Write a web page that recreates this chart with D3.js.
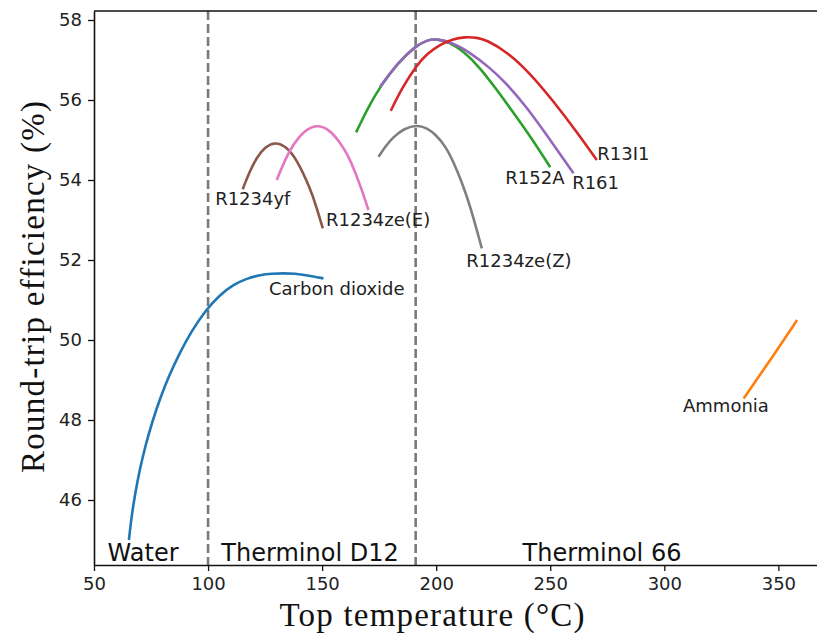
<!DOCTYPE html>
<meta charset="utf-8">
<script src="https://d3js.org/d3.v7.min.js"></script>
<style>
body { margin: 0; background: #fff; }
.tick text { font-family: "DejaVu Sans", sans-serif; font-size: 18px; fill: #222; }
.lbl { font-family: "DejaVu Sans", sans-serif; font-size: 18px; fill: #222; }
.region { font-family: "DejaVu Sans", sans-serif; font-size: 24px; fill: #111; }
.title { font-family: "Liberation Serif", "DejaVu Serif", serif; font-size: 33px; fill: #111; }
</style>
<div id="my_dataviz"></div>
<script>
// curves: [top temperature, efficiency]
var water = [[65.3,45.0],[66.5,45.6],[68,46.15],[70,46.75],[72.5,47.35],[75.5,47.95],[79,48.55],[83,49.12],[87.5,49.67],[92.5,50.2],[99,50.75],[105,51.12],[111,51.38],[117,51.54],[123,51.63],[128,51.66],[133,51.67],[138,51.66],[143.3,51.62],[150.6,51.54]]
var r152a = [[164.9,55.19],[170,55.8],[175.4,56.33],[183,56.92],[190.8,57.34],[196,57.5],[200.3,57.53],[206,57.44],[212,57.22],[219.3,56.8],[226,56.3],[233.9,55.68],[242,55.03],[250,54.32]]
var r161 = [[175.4,56.33],[183,56.92],[190.8,57.34],[196,57.5],[200,57.53],[207,57.44],[215,57.18],[223.7,56.8],[231,56.4],[239.7,55.82],[250,55.0],[260.2,54.17]]
var r13i1 = [[180.1,55.73],[185,56.3],[191.5,56.875],[196,57.16],[201.8,57.39],[207,57.52],[212.7,57.58],[218,57.56],[222,57.5],[230.9,57.21],[241,56.68],[251.5,55.96],[261,55.25],[270.4,54.5]]
var r1234zeZ = [[174.7,54.58],[178,54.86],[181.3,55.08],[186,55.29],[191.5,55.375],[196,55.3],[200,55.12],[204,54.85],[207.6,54.45],[211,53.98],[214.9,53.36],[220,52.29]]
var r1234yf = [[115.2,53.77],[118,54.19],[121.4,54.57],[125,54.83],[129.4,54.95],[134,54.85],[138.9,54.52],[144.7,53.8],[147.5,53.33],[150.3,52.79]]
var r1234zeE = [[130.1,54.0],[134,54.54],[137.4,54.9],[142,55.23],[147.7,55.39],[153,55.27],[157.9,54.94],[161.5,54.6],[164.5,54.2],[167.5,53.74],[170.3,53.25]]
var ammonia = [[334.8,48.54],[346.5,49.5],[358.2,50.5]]

var series = [
  {name: "Carbon dioxide", color: "#1f77b4", pts: water},
  {name: "R152A", color: "#2ca02c", pts: r152a},
  {name: "R161", color: "#9467bd", pts: r161},
  {name: "R13I1", color: "#d62728", pts: r13i1},
  {name: "R1234ze(Z)", color: "#7f7f7f", pts: r1234zeZ},
  {name: "R1234yf", color: "#8c564b", pts: r1234yf},
  {name: "R1234ze(E)", color: "#e377c2", pts: r1234zeE},
  {name: "Ammonia", color: "#ff7f0e", pts: ammonia}
]

// text annotations in data coordinates
var labels = [
  ["R1234yf", 103.1, 53.37],
  ["R1234ze(E)", 151.7, 52.84],
  ["Carbon dioxide", 126.7, 51.12],
  ["R1234ze(Z)", 213.2, 51.83],
  ["R152A", 230.3, 53.9],
  ["R161", 259.6, 53.77],
  ["R13I1", 270.6, 54.5],
  ["Ammonia", 308.2, 48.21]
]
var regions = [["Water", 71.5], ["Therminol D12", 144.7], ["Therminol 66", 272.7]]
var boundaries = [100, 191]
var xTicks = [50, 100, 150, 200, 250, 300, 350]
var yTicks = [46, 48, 50, 52, 54, 56, 58]

var W = 817, H = 633
var mLeft = 94, mRight = 824, mTop = 11, mBottom = 565

var svg = d3.select("#my_dataviz")
  .append("svg")
    .attr("width", W)
    .attr("height", H)

var x = d3.scaleLinear().domain([50, 370]).range([mLeft, mRight])
var y = d3.scaleLinear().domain([44.375, 58.225]).range([mBottom, mTop])

// region separators
svg.selectAll("line.sep")
  .data(boundaries)
  .enter()
  .append("line")
    .attr("class", "sep")
    .attr("x1", function(d){ return x(d) })
    .attr("x2", function(d){ return x(d) })
    .attr("y1", mTop)
    .attr("y2", mBottom)
    .attr("stroke", "#7a7a7a")
    .attr("stroke-width", 2.6)
    .style("stroke-dasharray", "9,4")

var line = d3.line()
  .x(function(d){ return x(d[0]) })
  .y(function(d){ return y(d[1]) })
  .curve(d3.curveBasis)

svg.append("g")
  .selectAll("path")
  .data(series)
  .enter()
  .append("path")
    .attr("d", function(d){ return line(d.pts) })
    .attr("fill", "none")
    .attr("stroke", function(d){ return d.color })
    .attr("stroke-width", 2.6)
    .attr("stroke-linecap", "butt")

svg.selectAll("text.lbl")
  .data(labels)
  .enter()
  .append("text")
    .attr("class", "lbl")
    .attr("x", function(d){ return x(d[1]) })
    .attr("y", function(d){ return y(d[2]) })
    .text(function(d){ return d[0] })

svg.selectAll("text.region")
  .data(regions)
  .enter()
  .append("text")
    .attr("class", "region")
    .attr("text-anchor", "middle")
    .attr("x", function(d){ return x(d[1]) })
    .attr("y", y(44.475))
    .text(function(d){ return d[0] })

// axes
svg.append("g")
  .attr("transform", "translate(0," + mBottom + ")")
  .call(d3.axisBottom(x).tickValues(xTicks).tickSize(6).tickPadding(6).tickSizeOuter(0))
svg.append("g")
  .attr("transform", "translate(" + mLeft + ",0)")
  .call(d3.axisLeft(y).tickValues(yTicks).tickSize(6).tickPadding(6).tickSizeOuter(0))
svg.selectAll(".domain").attr("stroke", "#111").attr("stroke-width", 1.6)
svg.selectAll(".tick line").attr("stroke", "#111").attr("stroke-width", 1.3)

// top spine
svg.append("line")
  .attr("x1", mLeft).attr("x2", mRight)
  .attr("y1", mTop).attr("y2", mTop)
  .attr("stroke", "#111")
  .attr("stroke-width", 1.6)

svg.append("text")
  .attr("class", "title")
  .attr("text-anchor", "middle")
  .attr("x", 432)
  .attr("y", 626)
  .attr("textLength", 305)
  .attr("lengthAdjust", "spacing")
  .text("Top temperature (°C)")

svg.append("text")
  .attr("class", "title")
  .attr("text-anchor", "middle")
  .attr("transform", "translate(44,287) rotate(-90)")
  .attr("textLength", 372)
  .attr("lengthAdjust", "spacing")
  .text("Round-trip efficiency (%)")
</script>
